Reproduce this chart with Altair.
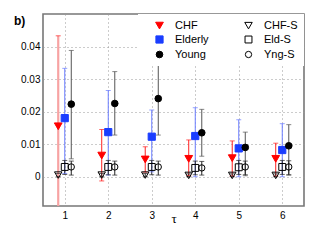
import altair as alt
import pandas as pd

taus = [1, 2, 3, 4, 5, 6]
series_names = ["CHF", "CHF-S", "Elderly", "Eld-S", "Young", "Yng-S"]

chf = [0.0155, 0.0065, 0.0053, 0.0055, 0.0057, 0.0055]
chf_lo = [-0.012, -0.0013, 0.0014, 0.0003, 0.0002, 0.0002]
chf_hi = [0.0433, 0.0145, 0.0092, 0.0113, 0.0110, 0.0103]

eld = [0.0180, 0.0137, 0.0123, 0.0125, 0.0087, 0.0082]
eld_lo = [0.0010, 0.0005, 0.0015, 0.0000, 0.0000, 0.0000]
eld_hi = [0.0333, 0.0265, 0.0205, 0.0212, 0.0175, 0.0163]

yng = [0.0223, 0.0225, 0.0240, 0.0135, 0.0090, 0.0095]
yng_lo = [0.0055, 0.0128, 0.0128, 0.0063, 0.0003, 0.0005]
yng_hi = [0.0388, 0.0323, 0.0380, 0.0207, 0.0137, 0.0160]

chfs = [0.0005, 0.0005, 0.0005, 0.0004, 0.0004, 0.0004]
chfs_lo = [0.0000, 0.0000, 0.0000, 0.0000, 0.0000, 0.0000]
chfs_hi = [0.0010, 0.0010, 0.0010, 0.0009, 0.0009, 0.0009]

elds = [0.0030, 0.0030, 0.0030, 0.0027, 0.0029, 0.0030]
elds_lo = [0.0007, 0.0006, 0.0006, 0.0006, 0.0007, 0.0007]
elds_hi = [0.0050, 0.0050, 0.0050, 0.0048, 0.0050, 0.0050]

ylds = [0.0030, 0.0030, 0.0030, 0.0027, 0.0030, 0.0030]
ylds_lo = [0.0005, 0.0005, 0.0005, 0.0005, 0.0006, 0.0006]
ylds_hi = [0.0048, 0.0048, 0.0048, 0.0047, 0.0048, 0.0049]

rows = []
for name, v, lo, hi in [
    ("CHF", chf, chf_lo, chf_hi),
    ("Elderly", eld, eld_lo, eld_hi),
    ("Young", yng, yng_lo, yng_hi),
    ("CHF-S", chfs, chfs_lo, chfs_hi),
    ("Eld-S", elds, elds_lo, elds_hi),
    ("Yng-S", ylds, ylds_lo, ylds_hi),
]:
    for t, a, b, c in zip(taus, v, lo, hi):
        rows.append({"series": name, "tau": t, "val": a, "lo": b, "hi": c})
df = pd.DataFrame(rows)

offset_expr = ("indexof(['CHF','CHF-S'], datum.series) >= 0 ? -0.15 : "
               "(indexof(['Young','Yng-S'], datum.series) >= 0 ? 0.15 : 0)")

axis_style = dict(domain=False, ticks=False, grid=True, gridColor="#999999",
                  gridDash=[1, 3], gridWidth=1, labelFont="Liberation Sans",
                  labelFontSize=10, labelColor="black")
xscale = alt.Scale(domain=[0.5, 6.5], nice=False)
xaxis = alt.Axis(values=taus, title="τ", format="d", labelPadding=4,
                 titleFont="Liberation Serif", titleFontSize=13,
                 titleFontWeight="normal", titlePadding=-8, titleColor="black",
                 **axis_style)
yscale = alt.Scale(domain=[-0.009, 0.05], nice=False, zero=False)
yaxis = alt.Axis(values=[0, 0.01, 0.02, 0.03, 0.04],
                 labelExpr="datum.value == 0 ? '0' : format(datum.value, '.2f')",
                 title=None, labelPadding=3, **axis_style)

err_colors = ["#ff2020", "#222222", "#6a7cff", "#222222", "#555555", "#222222"]
errscale = alt.Scale(domain=series_names, range=err_colors)

base = alt.Chart(df).transform_calculate(xpos="datum.tau + (" + offset_expr + ")")

long_cond = "datum.series == 'CHF' && datum.hi - datum.lo > 0.04"
short_cond = "!(" + long_cond + ")"

rules = base.transform_filter(short_cond).mark_rule(clip=True, strokeWidth=1).encode(
    x=alt.X("xpos:Q", scale=xscale, axis=xaxis),
    y=alt.Y("lo:Q", scale=yscale, axis=yaxis),
    y2="hi:Q",
    color=alt.Color("series:N", scale=errscale, legend=None),
)
long_rule = base.transform_filter(long_cond).mark_rule(
    clip=True, strokeWidth=2.2, color="#f7a3a3").encode(
    x=alt.X("xpos:Q"), y=alt.Y("lo:Q"), y2="hi:Q",
)
caps_lo = base.mark_tick(orient="horizontal", size=5, thickness=1, clip=True).encode(
    x=alt.X("xpos:Q"), y=alt.Y("lo:Q"),
    color=alt.Color("series:N", scale=errscale, legend=None),
)
caps_hi = base.mark_tick(orient="horizontal", size=5, thickness=1, clip=True).encode(
    x=alt.X("xpos:Q"), y=alt.Y("hi:Q"),
    color=alt.Color("series:N", scale=errscale, legend=None),
)

legend = alt.Legend(title=None, orient="none", legendX=95, legendY=0, columns=2,
                    direction="horizontal", fillColor="white", padding=6,
                    symbolOffset=10, columnPadding=24, rowPadding=2,
                    labelFont="Liberation Sans", labelFontSize=11,
                    labelColor="black", labelOffset=10, symbolStrokeWidth=1)
points = base.mark_point(opacity=1, strokeWidth=1).encode(
    x=alt.X("xpos:Q"), y=alt.Y("val:Q"),
    shape=alt.Shape("series:N", scale=alt.Scale(
        domain=series_names,
        range=["triangle-down", "triangle-down", "square", "square", "circle", "circle"]),
        legend=legend),
    stroke=alt.Stroke("series:N", scale=alt.Scale(
        domain=series_names,
        range=["#ff0000", "#000000", "#1a3dff", "#000000", "#000000", "#000000"]),
        legend=legend),
    fill=alt.Fill("series:N", scale=alt.Scale(
        domain=series_names,
        range=["#ff0000", "transparent", "#1a3dff", "transparent", "#000000", "transparent"]),
        legend=legend),
    size=alt.Size("series:N", scale=alt.Scale(
        domain=series_names, range=[60, 40, 40, 30, 60, 45]),
        legend=legend),
)

panel = alt.layer(rules, long_rule, caps_lo, caps_hi, points).properties(
    width=261, height=192,
    title=alt.TitleParams("b)", anchor="start", frame="group", dx=-29, dy=14,
                          offset=0, fontSize=12, fontWeight="bold",
                          font="Liberation Sans", color="black"),
    view=alt.ViewBackground(stroke="#777777", strokeWidth=1.6),
)

chart = alt.hconcat(panel).resolve_legend(
    shape="independent", stroke="independent", fill="independent", size="independent"
).resolve_scale(
    shape="independent", stroke="independent", fill="independent", size="independent"
)

chart.save("out.html", embed_options={"renderer": "svg", "actions": False})
